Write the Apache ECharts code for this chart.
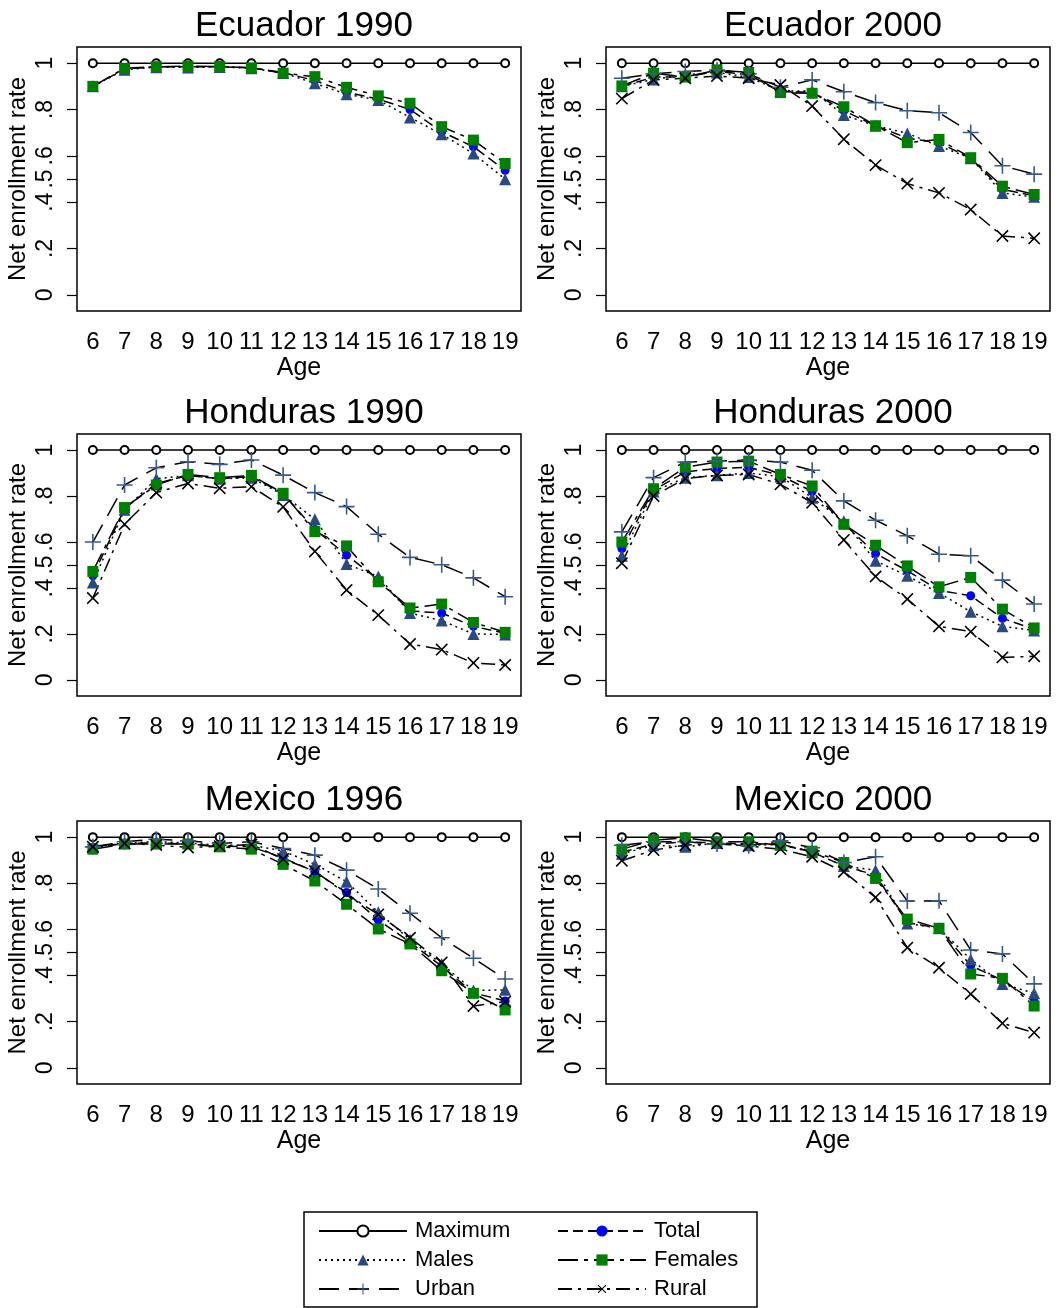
<!DOCTYPE html>
<html>
<head>
<meta charset="utf-8">
<title>Net enrollment rate</title>
<script src="https://cdn.jsdelivr.net/npm/echarts@6/dist/echarts.min.js"></script>
<style>
    html, body { margin: 0; padding: 0; background: #fff; }
    #main { width: 1061px; height: 1308px; }
</style>
</head>
<body>
<div id="main"></div>
<script>
var ages = ['6', '7', '8', '9', '10', '11', '12', '13', '14', '15', '16', '17', '18', '19'];
var yTicks = [0, 0.2, 0.4, 0.5, 0.6, 0.8, 1];
var maximum = [1, 1, 1, 1, 1, 1, 1, 1, 1, 1, 1, 1, 1, 1];

// Ecuador 1990 (no urban / rural split)
var ec90Total = [0.90, 0.975, 0.985, 0.985, 0.985, 0.98, 0.96, 0.925, 0.875, 0.845, 0.80, 0.704, 0.639, 0.538];
var ec90Males = [0.90, 0.972, 0.983, 0.982, 0.984, 0.978, 0.958, 0.913, 0.866, 0.841, 0.766, 0.693, 0.61, 0.499];
var ec90Females = [0.90, 0.978, 0.985, 0.987, 0.986, 0.98, 0.957, 0.942, 0.896, 0.859, 0.827, 0.726, 0.668, 0.567];

// Ecuador 2000
var ec00Total = [0.90, 0.94, 0.94, 0.965, 0.95, 0.877, 0.875, 0.795, 0.73, 0.677, 0.656, 0.59, 0.455, 0.428];
var ec00Males = [0.90, 0.93, 0.95, 0.96, 0.94, 0.88, 0.88, 0.776, 0.73, 0.697, 0.642, 0.59, 0.44, 0.423];
var ec00Females = [0.902, 0.957, 0.94, 0.971, 0.96, 0.873, 0.87, 0.812, 0.73, 0.657, 0.671, 0.592, 0.469, 0.433];
var ec00Urban = [0.935, 0.954, 0.964, 0.971, 0.954, 0.896, 0.928, 0.877, 0.83, 0.795, 0.786, 0.701, 0.557, 0.521];
var ec00Rural = [0.847, 0.928, 0.935, 0.945, 0.935, 0.906, 0.815, 0.672, 0.56, 0.48, 0.44, 0.368, 0.254, 0.244];

// Honduras 1990
var ho90Total = [0.453, 0.745, 0.855, 0.89, 0.875, 0.885, 0.81, 0.655, 0.543, 0.437, 0.30, 0.291, 0.233, 0.203];
var ho90Males = [0.424, 0.74, 0.875, 0.89, 0.875, 0.88, 0.805, 0.699, 0.504, 0.45, 0.291, 0.258, 0.20, 0.198];
var ho90Females = [0.472, 0.75, 0.848, 0.894, 0.88, 0.89, 0.812, 0.645, 0.583, 0.427, 0.313, 0.33, 0.25, 0.207];
var ho90Urban = [0.60, 0.848, 0.923, 0.949, 0.938, 0.957, 0.891, 0.815, 0.754, 0.634, 0.533, 0.501, 0.444, 0.362];
var ho90Rural = [0.356, 0.677, 0.815, 0.855, 0.834, 0.841, 0.753, 0.559, 0.391, 0.282, 0.156, 0.132, 0.074, 0.065];

// Honduras 2000
var ho00Total = [0.572, 0.825, 0.905, 0.92, 0.925, 0.89, 0.82, 0.68, 0.55, 0.475, 0.39, 0.366, 0.268, 0.22];
var ho00Males = [0.54, 0.82, 0.88, 0.89, 0.90, 0.885, 0.793, 0.69, 0.518, 0.453, 0.378, 0.297, 0.233, 0.215];
var ho00Females = [0.60, 0.832, 0.926, 0.948, 0.952, 0.894, 0.844, 0.677, 0.586, 0.496, 0.405, 0.446, 0.308, 0.226];
var ho00Urban = [0.644, 0.88, 0.948, 0.952, 0.957, 0.948, 0.912, 0.779, 0.695, 0.627, 0.547, 0.54, 0.434, 0.33];
var ho00Rural = [0.508, 0.80, 0.876, 0.89, 0.894, 0.851, 0.771, 0.609, 0.45, 0.352, 0.233, 0.21, 0.098, 0.103];

// Mexico 1996
var mx96Total = [0.955, 0.972, 0.975, 0.97, 0.962, 0.958, 0.91, 0.85, 0.76, 0.641, 0.545, 0.44, 0.325, 0.29];
var mx96Males = [0.96, 0.975, 0.98, 0.975, 0.965, 0.965, 0.94, 0.882, 0.807, 0.674, 0.555, 0.45, 0.335, 0.338];
var mx96Females = [0.948, 0.97, 0.97, 0.97, 0.958, 0.948, 0.882, 0.81, 0.709, 0.602, 0.537, 0.421, 0.323, 0.251];
var mx96Urban = [0.958, 0.98, 0.991, 0.984, 0.973, 0.98, 0.951, 0.922, 0.857, 0.775, 0.67, 0.564, 0.475, 0.385];
var mx96Rural = [0.958, 0.973, 0.966, 0.955, 0.961, 0.968, 0.905, 0.853, 0.753, 0.665, 0.564, 0.457, 0.268, 0.287];

// Mexico 2000
var mx00Total = [0.935, 0.97, 0.98, 0.975, 0.97, 0.97, 0.935, 0.875, 0.835, 0.63, 0.605, 0.443, 0.38, 0.287];
var mx00Males = [0.928, 0.965, 0.958, 0.975, 0.965, 0.968, 0.935, 0.875, 0.857, 0.626, 0.605, 0.47, 0.364, 0.323];
var mx00Females = [0.948, 0.987, 0.997, 0.98, 0.98, 0.965, 0.939, 0.89, 0.821, 0.645, 0.605, 0.407, 0.388, 0.268];
var mx00Urban = [0.965, 0.98, 0.98, 0.97, 0.963, 0.984, 0.954, 0.89, 0.915, 0.723, 0.724, 0.511, 0.494, 0.364];
var mx00Rural = [0.898, 0.944, 0.965, 0.973, 0.961, 0.948, 0.915, 0.85, 0.739, 0.521, 0.434, 0.32, 0.193, 0.153];

var panelTitles = ['Ecuador 1990', 'Ecuador 2000', 'Honduras 1990', 'Honduras 2000', 'Mexico 1996', 'Mexico 2000'];
var panelData = [
    { total: ec90Total, males: ec90Males, females: ec90Females, urban: null, rural: null },
    { total: ec00Total, males: ec00Males, females: ec00Females, urban: ec00Urban, rural: ec00Rural },
    { total: ho90Total, males: ho90Males, females: ho90Females, urban: ho90Urban, rural: ho90Rural },
    { total: ho00Total, males: ho00Males, females: ho00Females, urban: ho00Urban, rural: ho00Rural },
    { total: mx96Total, males: mx96Males, females: mx96Females, urban: mx96Urban, rural: mx96Rural },
    { total: mx00Total, males: mx00Males, females: mx00Females, urban: mx00Urban, rural: mx00Rural }
];

var FONT = '"Liberation Sans", Arial, Helvetica, sans-serif';
var PLUS = 'path://M9,0h2v9h9v2h-9v9h-2v-9h-9v-2h9z';

// grid boxes, in pixels
var colLeft = [77, 606];
var rowTop = [47, 434, 821];
var rowHeight = [264, 262, 263];
var boxWidth = 444;

// how each series looks
var styles = {
    Maximum: { symbol: 'emptyCircle', symbolSize: 8, color: '#000', dash: 'solid' },
    Total: { symbol: 'circle', symbolSize: 9, color: '#0000ff', dash: [10, 5] },
    Males: { symbol: 'triangle', symbolSize: 12, color: '#2a4a7f', dash: [2, 4] },
    Females: { symbol: 'rect', symbolSize: 11, color: '#008000', dash: [20, 6, 4, 6] },
    Urban: { symbol: PLUS, symbolSize: 16, color: '#3a5a8c', dash: [20, 10] },
    Rural: { symbol: PLUS, symbolSize: 16, color: '#000', dash: [14, 6, 3, 6], rotate: 45 }
};

function makeSeries(name, data, idx) {
    var s = styles[name];
    var item = { color: s.color };
    if (name == 'Maximum') {
        // empty circle: white fill, black ring
        item = { color: '#000', borderColor: '#000', borderWidth: 1.3 };
    }
    return {
        name: name,
        type: 'line',
        xAxisIndex: idx,
        yAxisIndex: idx,
        data: data,
        symbol: s.symbol,
        symbolSize: s.symbolSize,
        symbolRotate: s.rotate || 0,
        showAllSymbol: true,
        animation: false,
        lineStyle: { color: '#000', width: 1.5, type: s.dash },
        itemStyle: item,
        emphasis: { disabled: true }
    };
}

function showChart() {
    var myChart = echarts.init(document.getElementById('main'));
    var grids = [], xAxes = [], yAxes = [], titles = [], series = [];

    for (let i = 0; i < 6; i++) {
        var col = i % 2, row = Math.floor(i / 2);
        grids.push({
            left: colLeft[col], top: rowTop[row], width: boxWidth, height: rowHeight[row],
            show: true, borderColor: '#000', borderWidth: 1.5, backgroundColor: '#fff'
        });
        titles.push({
            text: panelTitles[i],
            left: colLeft[col] + boxWidth / 2,
            top: rowTop[row] - 43,
            textAlign: 'center',
            textStyle: { fontFamily: FONT, fontSize: 35, fontWeight: 'normal', color: '#000', lineHeight: 35 }
        });
        xAxes.push({
            gridIndex: i,
            type: 'category',
            data: ages,
            boundaryGap: true,
            name: 'Age',
            nameLocation: 'middle',
            nameGap: 45,
            nameTextStyle: { fontFamily: FONT, fontSize: 25, color: '#000' },
            axisLine: { show: false },
            axisTick: { alignWithLabel: true, length: 9, lineStyle: { color: '#000', width: 1.2 } },
            axisLabel: { interval: 0, margin: 19, fontFamily: FONT, fontSize: 24, color: '#000' },
            splitLine: { show: false }
        });
        yAxes.push({
            gridIndex: i,
            type: 'value',
            min: -0.07,
            max: 1.07,
            name: 'Net enrollment rate',
            nameLocation: 'middle',
            nameGap: 47,
            nameTextStyle: { fontFamily: FONT, fontSize: 24, color: '#000' },
            axisLine: { show: false },
            axisTick: { show: true, length: 10, customValues: yTicks, lineStyle: { color: '#000', width: 1.2 } },
            axisLabel: {
                customValues: yTicks,
                rotate: 90,
                margin: 20,
                fontFamily: FONT, fontSize: 23, color: '#000',
                formatter: function (v) {
                    if (v == 0) return '0';
                    if (v == 1) return '1';
                    return String(+v.toFixed(2)).replace('0.', '.');
                }
            },
            splitLine: { show: false }
        });

        var d = panelData[i];
        series.push(makeSeries('Maximum', maximum, i));
        series.push(makeSeries('Total', d.total, i));
        series.push(makeSeries('Males', d.males, i));
        series.push(makeSeries('Females', d.females, i));
        if (d.urban) series.push(makeSeries('Urban', d.urban, i));
        if (d.rural) series.push(makeSeries('Rural', d.rural, i));
    }

    var legendText = { fontFamily: FONT, fontSize: 22, lineHeight: 22, color: '#000', padding: [0, 0, 0, 3] };

    myChart.setOption({
        animation: false,
        title: titles,
        grid: grids,
        xAxis: xAxes,
        yAxis: yAxes,
        legend: [{
            data: ['Maximum', 'Males', 'Urban'],
            orient: 'vertical',
            left: 313, top: 1215,
            itemWidth: 88, itemHeight: 14, itemGap: 7,
            selectedMode: false,
            textStyle: legendText
        }, {
            data: ['Total', 'Females', 'Rural'],
            orient: 'vertical',
            left: 552, top: 1215,
            itemWidth: 88, itemHeight: 14, itemGap: 7,
            selectedMode: false,
            textStyle: legendText
        }],
        graphic: [{
            type: 'rect',
            shape: { x: 304, y: 1212, width: 453, height: 95 },
            style: { fill: 'none', stroke: '#000', lineWidth: 1.5 },
            silent: true
        }],
        series: series
    });
}

window.onload = function () {
    showChart();
}
</script>
</body>
</html>
